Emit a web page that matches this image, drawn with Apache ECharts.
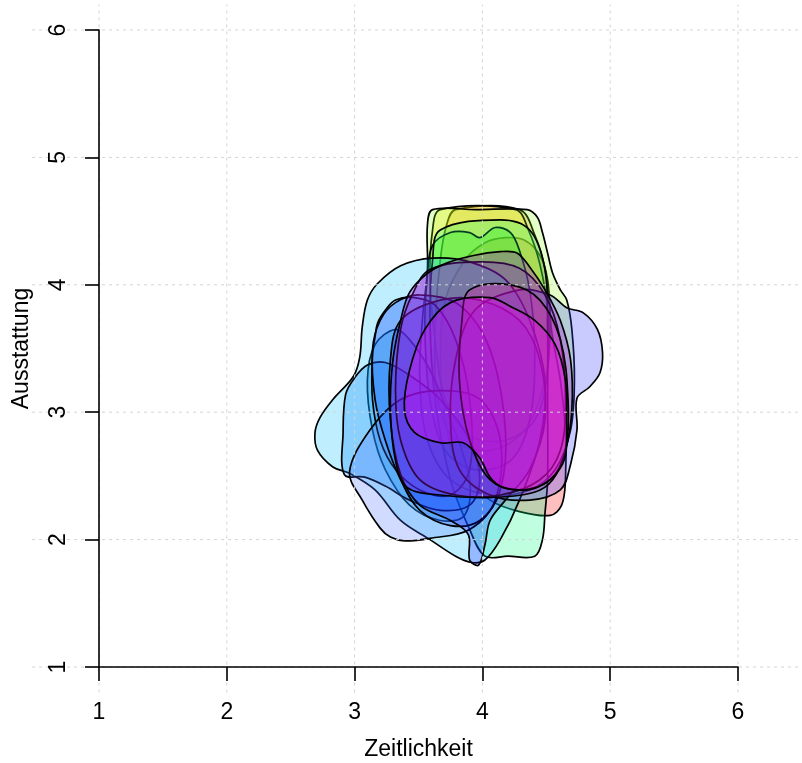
<!DOCTYPE html>
<html>
<head>
<meta charset="utf-8">
<script src="https://cdn.jsdelivr.net/npm/echarts@6/dist/echarts.min.js"></script>
<style>
html,body{margin:0;padding:0;background:#fff;}
#c{width:802px;height:763px;}
</style>
</head>
<body>
<div id="c"></div>
<script>
// ---- data (axis values: Zeitlichkeit, Ausstattung) ----
const xTicks = [1, 2, 3, 4, 5, 6];
const yTicks = [1, 2, 3, 4, 5, 6];
const xTitle = 'Zeitlichkeit';
const yTitle = 'Ausstattung';

const polyRed = [[4.18,4.37],[4.33,4.35],[4.45,4.23],[4.51,4.04],[4.54,3.65],[4.61,3.25],[4.65,2.86],[4.65,2.47],[4.62,2.27],[4.53,2.19],[4.29,2.22],[4.06,2.31],[3.82,2.55],[3.71,2.94],[3.67,3.41],[3.71,3.88],[3.86,4.19],[4.02,4.33]];
const polyOrange = [[3.79,4.59],[4.29,4.59],[4.41,4.39],[4.49,4.12],[4.53,3.72],[4.49,3.25],[4.33,2.86],[4.06,2.70],[3.79,2.78],[3.65,3.10],[3.63,3.65],[3.67,4.19],[3.72,4.47]];
const polyYellow = [[3.67,4.59],[4.26,4.59],[4.36,4.43],[4.45,4.16],[4.51,3.80],[4.51,3.33],[4.41,2.94],[4.18,2.78],[3.90,2.82],[3.71,3.10],[3.63,3.57],[3.59,4.04],[3.61,4.43]];
const polyChartreuse = [[3.61,4.59],[3.95,4.59],[4.35,4.59],[4.43,4.53],[4.47,4.41],[4.51,4.25],[4.55,4.09],[4.61,3.96],[4.66,3.88],[4.70,3.65],[4.72,3.25],[4.69,2.86],[4.57,2.55],[4.37,2.39],[4.06,2.35],[3.75,2.47],[3.57,2.78],[3.51,3.25],[3.53,3.72],[3.57,4.12],[3.57,4.47]];
const polyGreen = [[3.61,4.31],[3.75,4.41],[3.90,4.41],[3.98,4.37],[4.10,4.45],[4.22,4.41],[4.29,4.27],[4.37,3.96],[4.41,3.49],[4.37,2.94],[4.22,2.62],[3.94,2.55],[3.71,2.70],[3.59,3.10],[3.55,3.65],[3.57,4.08]];
const polyMint = [[3.67,4.43],[4.14,4.51],[4.37,4.43],[4.49,4.12],[4.51,3.65],[4.51,3.10],[4.51,2.47],[4.49,2.21],[4.47,2.00],[4.41,1.87],[4.20,1.87],[4.02,1.87],[3.90,2.08],[3.75,2.47],[3.63,3.10],[3.59,3.72],[3.61,4.19]];
const polyTeal = [[3.32,3.65],[3.16,3.53],[3.10,3.25],[3.14,2.86],[3.24,2.55],[3.43,2.27],[3.67,2.15],[3.86,2.19],[3.90,2.47],[3.75,2.94],[3.59,3.33],[3.43,3.57]];
const polySky = [[3.61,4.21],[3.36,4.15],[3.18,4.01],[3.10,3.88],[3.06,3.67],[3.04,3.43],[2.99,3.28],[2.83,3.10],[2.73,2.96],[2.69,2.84],[2.71,2.70],[2.83,2.57],[2.96,2.52],[3.16,2.39],[3.36,2.15],[3.59,2.00],[3.79,1.87],[3.92,1.82],[4.02,1.84],[4.14,2.00],[4.29,2.31],[4.45,2.78],[4.49,3.25],[4.37,3.72],[4.18,4.04],[3.90,4.18]];
const polyAzure = [[3.10,3.37],[3.00,3.27],[2.93,3.14],[2.91,2.84],[2.92,2.51],[3.08,2.49],[3.24,2.42],[3.43,2.31],[3.67,2.23],[3.90,2.27],[3.98,2.47],[3.90,2.78],[3.67,3.10],[3.43,3.29],[3.24,3.39]];
const polyCornflower = [[3.47,3.90],[3.32,3.88],[3.24,3.80],[3.18,3.70],[3.16,3.59],[3.14,3.45],[3.14,3.10],[3.20,2.78],[3.32,2.55],[3.51,2.39],[3.75,2.35],[3.90,2.55],[3.90,3.10],[3.79,3.57],[3.63,3.84]];
const polyLavender = [[2.96,2.53],[3.12,2.86],[3.36,3.10],[3.67,3.17],[3.98,3.10],[4.14,2.78],[4.10,2.31],[3.90,2.08],[3.59,2.01],[3.39,1.99],[3.28,2.02],[3.20,2.09],[3.06,2.31]];
const polyBlue = [[3.51,3.92],[3.32,3.86],[3.20,3.72],[3.14,3.49],[3.16,3.10],[3.24,2.78],[3.36,2.47],[3.51,2.23],[3.75,2.11],[3.98,2.15],[4.14,2.39],[4.18,2.86],[4.06,3.49],[3.82,3.84]];
const polyBlueTip = [[3.36,3.72],[3.67,3.88],[3.98,3.88],[4.29,3.72],[4.45,3.41],[4.49,2.94],[4.37,2.55],[4.18,2.31],[4.06,2.15],[4.02,1.96],[3.97,1.80],[3.90,1.84],[3.89,2.04],[3.75,2.15],[3.51,2.27],[3.36,2.51],[3.28,2.94],[3.28,3.41]];
const polyPeriwinkle = [[4.29,3.96],[4.53,3.92],[4.66,3.82],[4.79,3.78],[4.90,3.65],[4.94,3.47],[4.92,3.31],[4.84,3.20],[4.74,3.11],[4.74,2.86],[4.69,2.59],[4.61,2.39],[4.37,2.31],[4.06,2.35],[3.82,2.55],[3.75,2.94],[3.79,3.41],[3.94,3.80]];
const polyViolet = [[3.59,4.12],[3.98,4.18],[4.29,4.13],[4.49,3.92],[4.61,3.57],[4.65,3.10],[4.61,2.70],[4.45,2.47],[4.14,2.35],[3.79,2.35],[3.51,2.47],[3.36,2.78],[3.32,3.17],[3.36,3.65],[3.45,3.92]];
const polyPurple = [[3.57,4.09],[3.72,4.17],[3.93,4.23],[4.14,4.26],[4.27,4.25],[4.37,4.14],[4.49,3.96],[4.61,3.72],[4.69,3.41],[4.70,3.02],[4.65,2.70],[4.55,2.47],[4.40,2.37],[4.04,2.33],[3.67,2.35],[3.41,2.41],[3.32,2.62],[3.28,3.02],[3.30,3.41],[3.36,3.72],[3.43,3.94]];
const polyRose = [[3.90,3.96],[4.22,4.00],[4.45,3.88],[4.61,3.57],[4.67,3.10],[4.65,2.70],[4.53,2.47],[4.29,2.39],[4.06,2.47],[3.90,2.78],[3.82,3.25],[3.84,3.72]];
const polyMagenta = [[3.75,3.86],[4.06,3.90],[4.22,3.83],[4.41,3.72],[4.57,3.53],[4.65,3.25],[4.66,2.94],[4.65,2.66],[4.58,2.52],[4.47,2.43],[4.35,2.39],[4.16,2.41],[4.06,2.49],[3.98,2.64],[3.85,2.76],[3.67,2.76],[3.47,2.84],[3.39,3.02],[3.43,3.33],[3.55,3.65]];

// ---- styling / layout ----
const layers = [
  [polyRed,        'rgba(255,0,0,0.25)'],
  [polyOrange,     'rgba(255,140,0,0.28)'],
  [polyYellow,     'rgba(255,235,0,0.32)'],
  [polyChartreuse, 'rgba(128,255,0,0.22)'],
  [polyGreen,      'rgba(0,230,0,0.28)'],
  [polyMint,       'rgba(0,255,128,0.25)'],
  [polyTeal,       'rgba(0,160,200,0.28)'],
  [polySky,        'rgba(0,191,255,0.25)'],
  [polyAzure,      'rgba(0,128,255,0.28)'],
  [polyCornflower, 'rgba(60,120,255,0.22)'],
  [polyLavender,   'rgba(70,110,255,0.25)'],
  [polyBlue,       'rgba(0,64,255,0.22)'],
  [polyBlueTip,    'rgba(0,0,255,0.22)'],
  [polyPeriwinkle, 'rgba(60,70,255,0.28)'],
  [polyViolet,     'rgba(130,20,220,0.28)'],
  [polyPurple,     'rgba(160,20,210,0.30)'],
  [polyRose,       'rgba(255,0,160,0.25)'],
  [polyMagenta,    'rgba(240,0,240,0.32)']
];
// extent of the (wider) plotting region over which the grid is drawn
const plotRegionX = [0.476, 6.6];
const plotRegionY = [0.8, 6.2];

const FONT = 'Liberation Sans, Arial, sans-serif';
const gridStyle = {stroke: '#d3d3d3', lineWidth: 1, lineDash: [3, 4]};

const series = layers.map(function (l, i) {
  const pts = l[0];
  return {
    type: 'custom',
    coordinateSystem: 'cartesian2d',
    z: 2 + i * 0.01,
    silent: true,
    animation: false,
    data: pts,
    renderItem: function (params, api) {
      if (params.dataIndex !== 0) return null;
      const p = pts.map(function (d) { return api.coord(d); });
      return {
        type: 'polygon',
        shape: {points: p, smooth: 0.35},
        style: {fill: l[1], stroke: '#000', lineWidth: 1.7}
      };
    }
  };
});

// dotted grid (drawn on top of the regions, across the whole plotting region)
series.push({
  type: 'custom', coordinateSystem: 'cartesian2d', z: 5, silent: true, animation: false,
  data: xTicks.map(function (v) { return [v, yTicks[0]]; }),
  renderItem: function (params, api) {
    const v = api.value(0);
    const a = api.coord([v, plotRegionY[0]]);
    const b = api.coord([v, plotRegionY[1]]);
    return {type: 'line', shape: {x1: a[0], y1: a[1], x2: b[0], y2: b[1]}, style: gridStyle};
  }
});
series.push({
  type: 'custom', coordinateSystem: 'cartesian2d', z: 5, silent: true, animation: false,
  data: yTicks.map(function (v) { return [xTicks[0], v]; }),
  renderItem: function (params, api) {
    const v = api.value(1);
    const a = api.coord([plotRegionX[0], v]);
    const b = api.coord([plotRegionX[1], v]);
    return {type: 'line', shape: {x1: a[0], y1: a[1], x2: b[0], y2: b[1]}, style: gridStyle};
  }
});

const chart = echarts.init(document.getElementById('c'), null, {renderer: 'canvas'});
chart.setOption({
  animation: false,
  backgroundColor: '#ffffff',
  grid: {left: 99, right: 64, top: 30, bottom: 96, containLabel: false, outerBoundsMode: 'none'},
  xAxis: {
    type: 'value', min: xTicks[0], max: xTicks[xTicks.length - 1], interval: 1, z: 11,
    name: xTitle, nameLocation: 'middle', nameGap: 71,
    nameTextStyle: {fontFamily: FONT, fontSize: 23, color: '#000'},
    axisLine: {show: true, onZero: false, lineStyle: {color: '#000', width: 1.6}},
    axisTick: {show: true, length: 14, lineStyle: {color: '#000', width: 1.6}},
    axisLabel: {show: true, margin: 34, fontFamily: FONT, fontSize: 23, color: '#000'},
    splitLine: {show: false}
  },
  yAxis: {
    type: 'value', min: yTicks[0], max: yTicks[yTicks.length - 1], interval: 1, z: 11,
    name: yTitle, nameLocation: 'middle', nameGap: 66,
    nameTextStyle: {fontFamily: FONT, fontSize: 23, color: '#000'},
    axisLine: {show: true, onZero: false, lineStyle: {color: '#000', width: 1.6}},
    axisTick: {show: true, length: 14, lineStyle: {color: '#000', width: 1.6}},
    axisLabel: {show: true, rotate: 90, margin: 29, fontFamily: FONT, fontSize: 23, color: '#000'},
    splitLine: {show: false}
  },
  series: series
});
</script>
</body>
</html>
